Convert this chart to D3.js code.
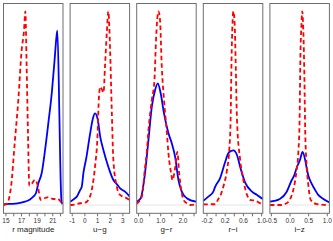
<!DOCTYPE html>
<html>
<head>
<meta charset="utf-8">
<script src="https://cdn.jsdelivr.net/npm/d3@7"></script>
<style>
  body { margin: 0; background: #fff; }
  svg { display: block; font-family: "Liberation Sans", Arial, sans-serif; }
</style>
</head>
<body>
<div id="chart"></div>
<script>
// panel titles
var titles = ["r magnitude", "u\u2212g", "g\u2212r", "r\u2212i", "i\u2212z"];

// x range shown in each panel
var xDomains = [[14.75, 22.38], [-1.13, 3.57], [-0.06, 2.62], [-0.27, 1.037], [-0.527, 1.07]];

// tick positions and which of them carry a label
var ticks = [
  [15, 16, 17, 18, 19, 20, 21, 22],
  [-1, 0, 1, 2, 3],
  [0, 0.5, 1, 1.5, 2, 2.5],
  [-0.2, 0, 0.2, 0.4, 0.6, 0.8, 1.0],
  [-0.5, 0, 0.5, 1.0]
];
var tickLabels = [
  [15, 17, 19, 21],
  [-1, 0, 1, 2, 3],
  [0, 1, 2],
  [-0.2, 0.2, 0.6, 1.0],
  [-0.5, 0, 0.5, 1.0]
];
var tickFormats = ["d", "d", ".1f", ".1f", ".1f"];

// red dashed densities (scaled so each panel's max is 1)
var redR = [[14.75,0],[15.15,0.005],[15.71,0.093],[16.22,0.336],[16.65,0.542],[17.08,0.80],[17.38,0.90],[17.55,1.0],
  [17.72,0.71],[17.89,0.37],[18.06,0.10],[18.37,0.11],[18.79,0.13],[19.14,0.10],[19.52,0.026],[20.08,0.036],
  [20.5,0.041],[21.14,0.031],[21.66,0.033],[22.22,0.01],[22.38,0.003]];
var redUG = [[-1.13,0],[-1.0,0.0],[-0.34,0.009],[0.05,0.012],[0.31,0.026],[0.58,0.077],[0.84,0.198],[1.02,0.336],
  [1.16,0.57],[1.26,0.61],[1.40,0.594],[1.51,0.58],[1.63,0.72],[1.77,0.89],[1.89,1.0],[2.03,0.80],[2.16,0.49],
  [2.29,0.23],[2.56,0.094],[2.82,0.052],[3.21,0.040],[3.57,0.026]];
var redGR = [[-0.06,0.005],[-0.03,0.009],[0.17,0.043],[0.32,0.198],[0.39,0.267],[0.47,0.387],[0.62,0.542],[0.74,0.645],
  [0.81,0.852],[0.92,1.0],[0.99,0.955],[1.07,0.714],[1.17,0.542],[1.30,0.372],[1.37,0.267],[1.49,0.164],[1.55,0.129],
  [1.67,0.191],[1.77,0.274],[1.86,0.155],[1.97,0.062],[2.05,0.026],[2.20,0.009],[2.35,0.0],[2.62,0.005]];
var redRI = [[-0.27,0.003],[-0.09,0.004],[-0.01,0.004],[0.06,0.031],[0.10,0.046],[0.17,0.094],[0.25,0.181],[0.30,0.284],
  [0.33,0.439],[0.35,0.749],[0.37,0.929],[0.39,1.0],[0.42,0.929],[0.44,0.749],[0.47,0.439],[0.54,0.232],[0.61,0.129],
  [0.69,0.052],[0.76,0.026],[0.87,0.022],[0.98,0.009],[1.037,0.003]];
var redIZ = [[-0.527,0],[-0.21,0],[-0.12,0.005],[-0.03,0.017],[0.04,0.041],[0.10,0.077],[0.19,0.181],[0.24,0.284],
  [0.27,0.439],[0.29,0.749],[0.32,0.929],[0.34,1.0],[0.37,0.903],[0.40,0.645],[0.42,0.387],[0.45,0.232],[0.50,0.112],
  [0.57,0.026],[0.73,0.005],[1.07,0.0]];

// blue solid densities
var blueR = [[14.75,0.003],[14.94,0.004],[16.22,0.007],[17.51,0.017],[18.15,0.029],[18.57,0.043],[18.92,0.062],
  [19.22,0.112],[19.65,0.165],[20.08,0.284],[20.5,0.423],[20.94,0.578],[21.27,0.733],[21.55,0.87],[21.66,0.90],
  [21.92,0.454],[22.04,0.196],[22.17,0.026],[22.3,0.005]];
var blueUG = [[-1.13,0.017],[-0.74,0.035],[-0.60,0.043],[-0.34,0.077],[-0.21,0.094],[-0.08,0.164],[0.15,0.243],
  [0.42,0.356],[0.68,0.449],[0.84,0.473],[1.06,0.439],[1.24,0.356],[1.50,0.284],[1.77,0.222],[2.03,0.170],
  [2.29,0.129],[2.56,0.108],[2.82,0.086],[3.21,0.069],[3.57,0.044]];
var blueGR = [[-0.06,0.017],[0.12,0.035],[0.32,0.17],[0.47,0.336],[0.62,0.507],[0.77,0.594],[0.89,0.628],[1.02,0.577],
  [1.17,0.473],[1.37,0.370],[1.52,0.319],[1.67,0.249],[1.82,0.129],[1.97,0.069],[2.20,0.035],[2.62,0.017]];
var blueRI = [[-0.27,0.021],[-0.16,0.043],[-0.05,0.069],[-0.01,0.094],[0.10,0.139],[0.21,0.222],[0.28,0.267],
  [0.34,0.279],[0.39,0.282],[0.47,0.258],[0.54,0.196],[0.65,0.116],[0.80,0.069],[0.91,0.052],[1.037,0.031]];
var blueIZ = [[-0.527,0.017],[-0.26,0.031],[-0.08,0.067],[0.06,0.129],[0.12,0.15],[0.20,0.196],[0.28,0.232],
  [0.35,0.274],[0.42,0.232],[0.46,0.191],[0.50,0.155],[0.60,0.108],[0.69,0.077],[0.77,0.052],[0.87,0.036],[1.07,0.013]];

var reds = [redR, redUG, redGR, redRI, redIZ];
var blues = [blueR, blueUG, blueGR, blueRI, blueIZ];

var width = 333, height = 241;
var left0 = 3.5, step = 66.6, panelW = 59.5, boxTop = 3.5, boxBottom = 213.3;

var svg = d3.select("#chart").append("svg")
    .attr("width", width)
    .attr("height", height);

var y = d3.scaleLinear().domain([0, 1]).range([205, 11.3]);

titles.forEach(function(title, i) {
    var l = left0 + i * step;
    var x = d3.scaleLinear().domain(xDomains[i]).range([l, l + panelW]);
    var g = svg.append("g");

    g.append("clipPath").attr("id", "clip" + i)
      .append("rect")
        .attr("x", l).attr("y", boxTop)
        .attr("width", panelW).attr("height", boxBottom - boxTop);

    // zero line
    g.append("line")
        .attr("x1", l).attr("x2", l + panelW)
        .attr("y1", y(0)).attr("y2", y(0))
        .attr("stroke", "#e4e4e4")
        .attr("stroke-width", 1);

    var line = d3.line()
        .x(function(d) { return x(d[0]); })
        .y(function(d) { return y(d[1]); })
        .curve(d3.curveMonotoneX);

    var plot = g.append("g").attr("clip-path", "url(#clip" + i + ")");

    plot.append("path")
        .datum(blues[i])
        .attr("d", line)
        .attr("fill", "none")
        .attr("stroke", "#0000ff")
        .attr("stroke-width", 1.8);

    plot.append("path")
        .datum(reds[i])
        .attr("d", line)
        .attr("fill", "none")
        .attr("stroke", "#ff0000")
        .attr("stroke-width", 1.8)
        .attr("stroke-dasharray", "4.5,3");

    // box
    g.append("rect")
        .attr("x", l).attr("y", boxTop)
        .attr("width", panelW).attr("height", boxBottom - boxTop)
        .attr("fill", "none")
        .attr("stroke", "#6e6e6e")
        .attr("stroke-width", 1);

    var fmt = d3.format(tickFormats[i]);
    var axis = d3.axisBottom(x)
        .tickValues(ticks[i])
        .tickSize(3)
        .tickPadding(2)
        .tickFormat(function(d) {
            var lab = tickLabels[i].some(function(v) { return Math.abs(v - d) < 1e-9; });
            return lab ? fmt(d).replace("\u2212", "-") : "";
        });

    var ax = g.append("g")
        .attr("transform", "translate(0," + boxBottom + ")")
        .call(axis);
    ax.select(".domain").remove();
    ax.selectAll(".tick line").attr("stroke", "#6e6e6e");
    ax.selectAll("text")
        .attr("fill", "#333")
        .style("font-size", "6.5px")
        .style("font-family", "'Liberation Sans', Arial, sans-serif");

    g.append("text")
        .attr("x", l + panelW / 2)
        .attr("y", 231.5)
        .attr("text-anchor", "middle")
        .attr("fill", "#222")
        .style("font-size", "8px")
        .text(title);
});
</script>
</body>
</html>
